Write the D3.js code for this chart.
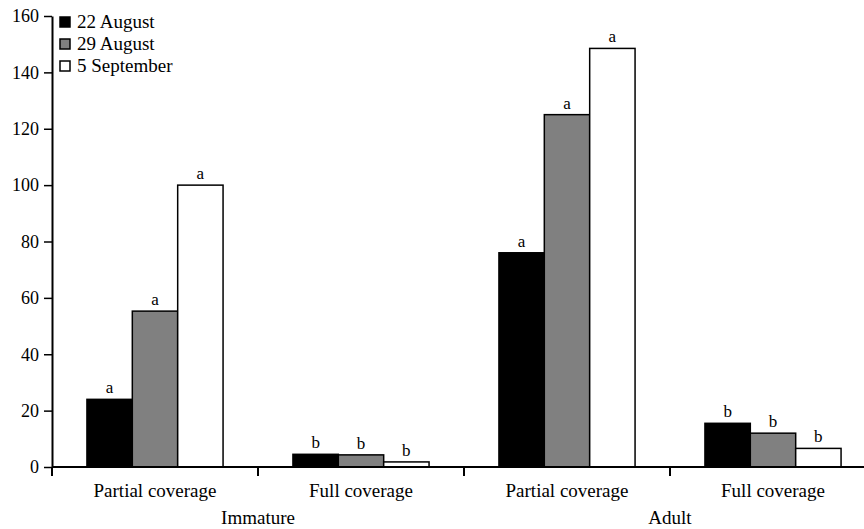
<!DOCTYPE html>
<html>
<head>
<meta charset="utf-8">
<script src="https://cdn.jsdelivr.net/npm/d3@7"></script>
<style>
  body { margin: 0; background: #fff; }
  text { font-family: "Liberation Serif", "Times New Roman", serif; fill: #000; }
</style>
</head>
<body>
<div id="chart"></div>
<script>
// data
var groups = ["Immature", "Adult"];
var categories = ["Partial coverage", "Full coverage", "Partial coverage", "Full coverage"];
var dates = ["22 August", "29 August", "5 September"];
var aug22 = [24, 4.5, 76, 15.5];
var aug29 = [55.3, 4.3, 125, 12];
var sep5 = [100, 1.8, 148.5, 6.6];
var letters = [["a", "a", "a"], ["b", "b", "b"], ["a", "a", "a"], ["b", "b", "b"]];
var yTicks = [0, 20, 40, 60, 80, 100, 120, 140, 160];
var fills = ["#000000", "#808080", "#ffffff"];

var width = 864;
var height = 529;
var marginLeft = 52, plotTop = 16, plotBottom = 467;
var serif = "'Liberation Serif', 'Times New Roman', serif";

var svg = d3.select("#chart")
  .append("svg")
    .attr("width", width)
    .attr("height", height);

var series = [aug22, aug29, sep5];

// outer band per category, one band is ~206px, last one runs off the page
var x = d3.scaleBand()
  .domain(d3.range(categories.length))
  .range([marginLeft, marginLeft + 824])
  .padding(0);

var xInner = d3.scaleBand()
  .domain(d3.range(dates.length))
  .range([0, x.bandwidth()])
  .paddingInner(0)
  .paddingOuter(0.77);

var y = d3.scaleLinear()
  .domain([0, 160])
  .range([plotBottom, plotTop]);

// bars
categories.forEach(function(c, i) {
  var g = svg.append("g").attr("transform", "translate(" + x(i) + ",0)");
  series.forEach(function(s, j) {
    g.append("rect")
      .attr("x", xInner(j))
      .attr("y", y(s[i]))
      .attr("width", xInner.bandwidth())
      .attr("height", y(0) - y(s[i]))
      .style("fill", fills[j])
      .style("stroke", "#000")
      .style("stroke-width", 1.5);
    g.append("text")
      .attr("x", xInner(j) + xInner.bandwidth() / 2)
      .attr("y", y(s[i]) - 6)
      .attr("text-anchor", "middle")
      .style("font-size", "17px")
      .text(letters[i][j]);
  });
});

// y axis
var yAxis = d3.axisLeft(y)
  .tickValues(yTicks)
  .tickSize(8)
  .tickSizeOuter(0)
  .tickPadding(5);

svg.append("g")
  .attr("transform", "translate(" + marginLeft + ",0)")
  .call(yAxis)
  .call(function(g) {
    g.attr("font-family", serif);
    g.select(".domain").attr("stroke-width", 2);
    g.selectAll(".tick line").attr("stroke-width", 1.5);
    g.selectAll(".tick text")
      .style("font-family", serif)
      .style("font-size", "18px");
  });

// x axis: baseline plus ticks at the band edges
svg.append("line")
  .attr("x1", marginLeft).attr("x2", width)
  .attr("y1", plotBottom).attr("y2", plotBottom)
  .style("stroke", "#000").style("stroke-width", 2);

svg.selectAll(".xtick")
  .data(d3.range(categories.length))
  .enter()
  .append("line")
    .attr("x1", function(d) { return x(d); })
    .attr("x2", function(d) { return x(d); })
    .attr("y1", plotBottom)
    .attr("y2", plotBottom + 9)
    .style("stroke", "#000")
    .style("stroke-width", 2);

svg.selectAll(".xlabel")
  .data(categories)
  .enter()
  .append("text")
    .attr("x", function(d, i) { return x(i) + x.bandwidth() / 2; })
    .attr("y", 497)
    .attr("text-anchor", "middle")
    .style("font-size", "19px")
    .text(function(d) { return d; });

svg.selectAll(".glabel")
  .data(groups)
  .enter()
  .append("text")
    .attr("x", function(d, i) { return x(i * 2 + 1); })
    .attr("y", 524)
    .attr("text-anchor", "middle")
    .style("font-size", "19px")
    .text(function(d) { return d; });

// legend
var legend = svg.selectAll(".legend")
  .data(dates)
  .enter()
  .append("g")
    .attr("transform", function(d, i) { return "translate(60," + (17 + i * 22) + ")"; });

legend.append("rect")
  .attr("width", 10)
  .attr("height", 10)
  .style("fill", function(d, i) { return fills[i]; })
  .style("stroke", "#000")
  .style("stroke-width", 1.5);

legend.append("text")
  .attr("x", 17)
  .attr("y", 11)
  .style("font-size", "19px")
  .text(function(d) { return d; });
</script>
</body>
</html>
